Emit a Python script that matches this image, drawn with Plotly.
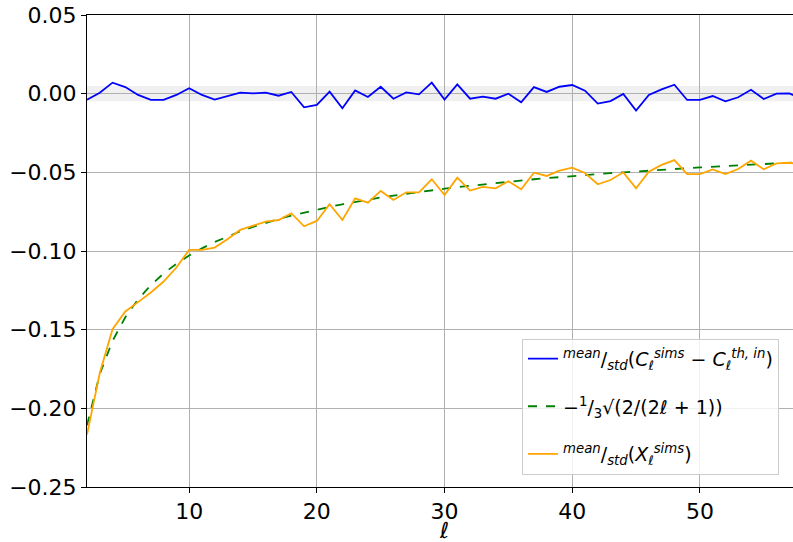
import plotly.graph_objects as go

ell = list(range(2, 59))

blue_vals = [
    -0.0038, 0.0006, 0.0070, 0.0042, -0.0008, -0.0040, -0.0040, -0.0008, 0.0034,
    -0.0008, -0.0038, -0.0015, 0.0006, 0.0002, 0.0006, -0.0013, 0.0011, -0.0087,
    -0.0072, 0.0013, -0.0093, 0.0021, -0.0021, 0.0044, -0.0032, 0.0008, -0.0004,
    0.0070, -0.0038, 0.0059, -0.0032, -0.0019, -0.0032, 0.0000, -0.0055, 0.0042,
    0.0011, 0.0044, 0.0055, 0.0019, -0.0063, -0.0047, -0.0002, -0.0108, -0.0008,
    0.0027, 0.0057, -0.0040, -0.0040, -0.0015, -0.0049, -0.0023, 0.0025, -0.0034,
    0.0000, 0.0002, -0.0036,
]

green_vals = [
    -0.2108, -0.1782, -0.1571, -0.1421, -0.1307, -0.1217, -0.1143, -0.1081, -0.1029,
    -0.0983, -0.0943, -0.0907, -0.0875, -0.0847, -0.0821, -0.0797, -0.0775, -0.0755,
    -0.0736, -0.0719, -0.0703, -0.0688, -0.0673, -0.0660, -0.0648, -0.0636, -0.0624,
    -0.0614, -0.0604, -0.0594, -0.0585, -0.0576, -0.0568, -0.0559, -0.0552, -0.0544,
    -0.0537, -0.0530, -0.0524, -0.0517, -0.0511, -0.0505, -0.0500, -0.0494, -0.0489,
    -0.0484, -0.0479, -0.0474, -0.0469, -0.0464, -0.0460, -0.0456, -0.0452, -0.0447,
    -0.0443, -0.0440, -0.0436,
]

orange_vals = [
    -0.2167, -0.1776, -0.1497, -0.1384, -0.1325, -0.1264, -0.1194, -0.1105, -0.0993,
    -0.0993, -0.0978, -0.0925, -0.0866, -0.0841, -0.0813, -0.0803, -0.0760, -0.0843,
    -0.0809, -0.0703, -0.0803, -0.0665, -0.0693, -0.0618, -0.0676, -0.0627, -0.0627,
    -0.0544, -0.0644, -0.0534, -0.0616, -0.0593, -0.0602, -0.0557, -0.0608, -0.0502,
    -0.0523, -0.0489, -0.0470, -0.0504, -0.0576, -0.0549, -0.0500, -0.0602, -0.0496,
    -0.0453, -0.0422, -0.0511, -0.0511, -0.0481, -0.0511, -0.0479, -0.0426, -0.0481,
    -0.0443, -0.0439, -0.0450,
]

band_half_width = 0.0048

x_ticks = [10, 20, 30, 40, 50]
y_ticks = [-0.25, -0.20, -0.15, -0.10, -0.05, 0.00, 0.05]

names = [
    "<sup><i>mean</i></sup>/<sub><i>std</i></sub>(<i>C</i><sub><i>ℓ</i></sub><sup><i>sims</i></sup> − <i>C</i><sub><i>ℓ</i></sub><sup><i>th, in</i></sup>)",
    "−<sup>1</sup>/<sub>3</sub>√(2/(2<i>ℓ</i> + 1))",
    "<sup><i>mean</i></sup>/<sub><i>std</i></sub>(<i>X</i><sub><i>ℓ</i></sub><sup><i>sims</i></sup>)",
]

FONT = "DejaVu Sans"

fig = go.Figure()
fig.add_trace(go.Scatter(x=ell, y=blue_vals, mode="lines", name=names[0],
                         line=dict(color="blue", width=1.8), legendgroup="a"))
fig.add_trace(go.Scatter(x=ell, y=green_vals, mode="lines", name=names[1],
                         line=dict(color="green", width=1.8, dash="dash"), legendgroup="b"))
fig.add_trace(go.Scatter(x=ell, y=orange_vals, mode="lines", name=names[2],
                         line=dict(color="orange", width=1.8), legendgroup="c"))

fig.add_shape(type="rect", xref="paper", x0=0, x1=1, yref="y",
              y0=-band_half_width, y1=band_half_width,
              fillcolor="rgba(128,128,128,0.12)", line=dict(width=0), layer="below")

fig.add_annotation(text="<i>ℓ</i>", xref="paper", yref="paper", x=(444 - 87) / 706,
                   y=(487.3 - 531) / 472.3, xanchor="center", yanchor="middle",
                   showarrow=False, font=dict(family=FONT, size=22, color="black"))

fig.update_layout(
    width=793, height=542,
    margin=dict(l=87, r=0, t=15, b=55, autoexpand=False),
    plot_bgcolor="white", paper_bgcolor="white",
    font=dict(family=FONT, size=22, color="black"),
    showlegend=True,
    legend=dict(
        x=(522 - 87) / 706, y=(487.3 - 475) / 472.3, xanchor="left", yanchor="bottom",
        bgcolor="rgba(255,255,255,0.8)", bordercolor="#cccccc", borderwidth=1,
        font=dict(family=FONT, size=19, color="black"),
        tracegroupgap=20,
    ),
    xaxis=dict(
        range=[2, 57.29], tickvals=x_ticks, ticks="outside", ticklen=5, tickwidth=1,
        tickcolor="black", showline=True, linecolor="black", linewidth=1, mirror=True,
        showgrid=True, gridcolor="#b0b0b0", gridwidth=1, zeroline=False,
        tickfont=dict(size=22), automargin=False,
    ),
    yaxis=dict(
        range=[-0.25, 0.05], tickvals=y_ticks, tickformat=".2f", ticks="outside",
        ticklen=5, tickwidth=1, tickcolor="black", showline=True, linecolor="black",
        linewidth=1, showgrid=True, gridcolor="#b0b0b0", gridwidth=1, zeroline=False,
        tickfont=dict(size=22), automargin=False,
    ),
)

fig.write_html("out.html", config={"displayModeBar": False},
               post_script="document.body.style.margin='0';document.body.style.overflow='hidden';")
